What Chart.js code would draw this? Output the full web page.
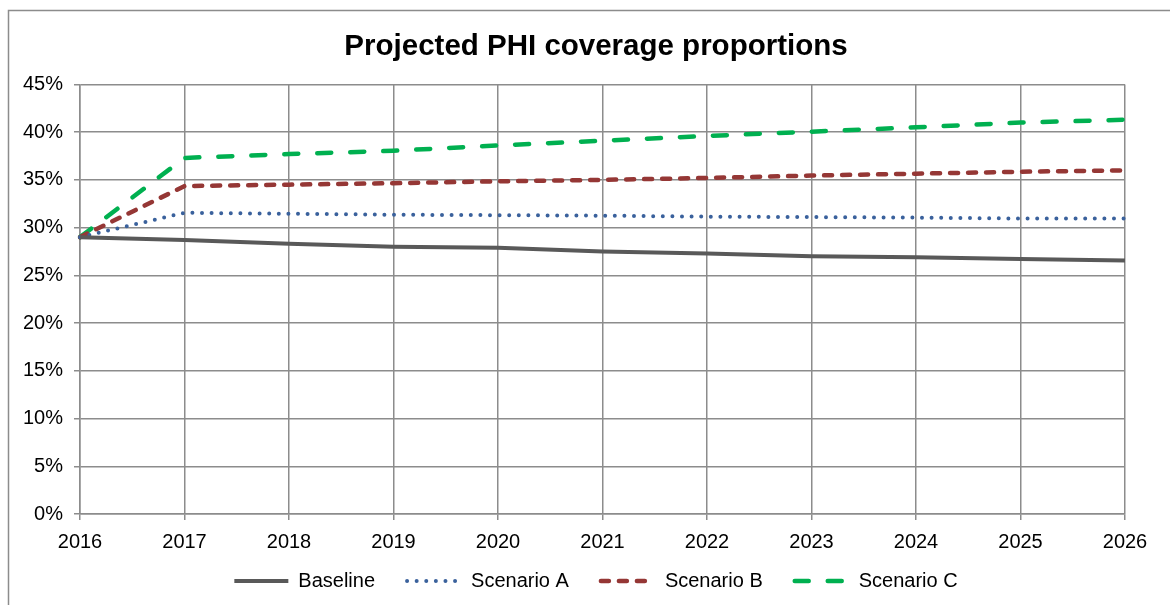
<!DOCTYPE html>
<html>
<head>
<meta charset="utf-8">
<script src="https://cdn.jsdelivr.net/npm/chart.js@4.4.1/dist/chart.umd.min.js"></script>
<style>
  html, body { margin: 0; padding: 0; background: #fff; overflow: hidden; }
  #wrap { width: 1170px; height: 605px; position: relative; }
</style>
</head>
<body>
<div id="wrap"><canvas id="phiChart"></canvas></div>
<script>
const years = ['2016', '2017', '2018', '2019', '2020', '2021', '2022', '2023', '2024', '2025', '2026'];
const baseline  = [29.0, 28.7, 28.3, 28.0, 27.9, 27.5, 27.3, 27.0, 26.9, 26.7, 26.55];
const scenarioA = [29.0, 31.55, 31.45, 31.35, 31.3, 31.25, 31.15, 31.1, 31.05, 30.95, 30.95];
const scenarioB = [29.0, 34.35, 34.5, 34.65, 34.85, 35.0, 35.2, 35.45, 35.65, 35.85, 36.0];
const scenarioC = [29.0, 37.3, 37.7, 38.05, 38.6, 39.1, 39.6, 40.05, 40.5, 41.0, 41.3];
const yTicks = [0, 5, 10, 15, 20, 25, 30, 35, 40, 45];

const gridColor = '#8c8c8c';
const font = 'Liberation Sans, Arial, sans-serif';

// outer frame of the chart object (right/bottom are cropped in the original)
const framePlugin = {
    id: 'frame',
    afterLayout(chart) {
        // widen the label clip boxes so tick labels outside the narrow scale boxes still show
        chart.scales.y.left = 0;
        chart.scales.x.bottom = chart.scales.x.top + 50;
    },
    beforeDraw(chart) {
        const ctx = chart.ctx;
        ctx.save();
        ctx.fillStyle = '#fff';
        ctx.fillRect(0, 0, chart.width, chart.height);
        ctx.strokeStyle = gridColor;
        ctx.lineWidth = 1.5;
        ctx.strokeRect(8.5, 10.5, 1300, 800);
        ctx.restore();
    }
};

const ctx = document.getElementById('phiChart').getContext('2d');
new Chart(ctx, {
    type: 'line',
    data: {
        labels: years,
        datasets: [
            {
                label: 'Baseline',
                data: baseline,
                borderColor: '#595959',
                backgroundColor: '#595959',
                borderWidth: 4,
                borderCapStyle: 'butt'
            },
            {
                label: 'Scenario A',
                data: scenarioA,
                borderColor: '#3a619c',
                backgroundColor: '#3a619c',
                borderWidth: 4,
                borderDash: [0, 9.6],
                borderCapStyle: 'round'
            },
            {
                label: 'Scenario B',
                data: scenarioB,
                borderColor: '#953735',
                backgroundColor: '#953735',
                borderWidth: 4.5,
                borderDash: [8, 10],
                borderCapStyle: 'round'
            },
            {
                label: 'Scenario C',
                data: scenarioC,
                borderColor: '#00b050',
                backgroundColor: '#00b050',
                borderWidth: 4.5,
                borderDash: [14, 19],
                borderCapStyle: 'round'
            }
        ]
    },
    options: {
        responsive: true,
        maintainAspectRatio: false,
        animation: false,
        elements: {
            point: { radius: 0, hoverRadius: 0 },
            line: { tension: 0 }
        },
        layout: {
            padding: { top: 29, right: 45, bottom: 4, left: 67 }
        },
        scales: {
            x: {
                offset: false,
                grid: { color: gridColor, lineWidth: 1.5, tickLength: 6, drawTicks: true },
                border: { color: gridColor, width: 1.5 },
                ticks: {
                    color: '#000',
                    font: { family: font, size: 20 },
                    padding: 10,
                    maxRotation: 0,
                    autoSkip: false
                },
                afterFit(scale) { scale.height = 25; }
            },
            y: {
                min: 0,
                max: 45,
                afterBuildTicks(scale) {
                    scale.ticks = yTicks.map(v => ({ value: v }));
                },
                grid: { color: gridColor, lineWidth: 1.5, tickLength: 6 },
                border: { color: gridColor, width: 1.5 },
                ticks: {
                    color: '#000',
                    font: { family: font, size: 20 },
                    padding: 11,
                    callback: v => v + '%'
                },
                afterFit(scale) { scale.width = 13; }
            }
        },
        plugins: {
            title: {
                display: true,
                text: 'Projected PHI coverage proportions',
                color: '#000',
                font: { family: font, size: 29.5, weight: 'bold' },
                padding: { top: 0, bottom: 20 }
            },
            legend: {
                position: 'bottom',
                labels: {
                    usePointStyle: true,
                    pointStyle: 'line',
                    pointStyleWidth: 54,
                    color: '#000',
                    padding: 32,
                    font: { family: font, size: 20 },
                    generateLabels(chart) {
                        const items = Chart.defaults.plugins.legend.labels.generateLabels(chart);
                        return items.map(item => {
                            const ds = chart.data.datasets[item.datasetIndex];
                            item.lineDash = ds.borderDash || [];
                            item.lineCap = ds.borderCapStyle;
                            item.lineWidth = ds.borderWidth;
                            item.strokeStyle = ds.borderColor;
                            return item;
                        });
                    }
                }
            },
            tooltip: { enabled: false }
        }
    },
    plugins: [framePlugin]
});
</script>
</body>
</html>
